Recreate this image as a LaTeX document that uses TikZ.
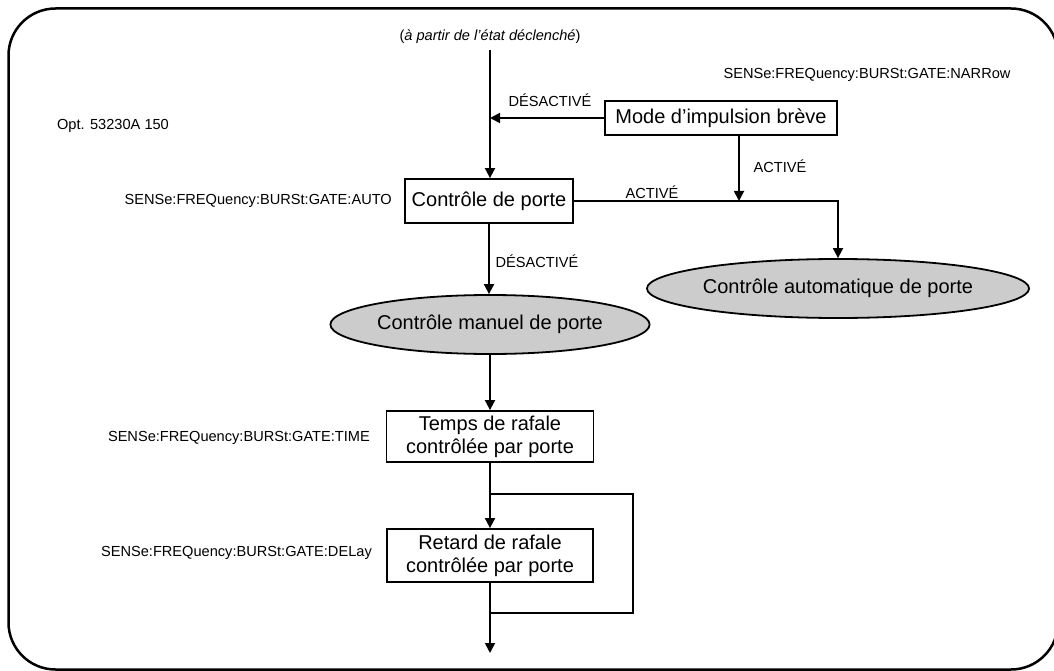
\documentclass[tikz,border=0pt]{standalone}
\usepackage{fontspec}
\setmainfont{Liberation Sans}
\usetikzlibrary{arrows.meta,shapes.geometric}
\begin{document}
\begin{tikzpicture}[x=1pt,y=-1pt,
 conn/.style={line width=1.8pt,-{Triangle[length=10pt,width=10pt]}},
 plainline/.style={line width=1.8pt},
 boxnode/.style={draw,line width=1.8pt,inner sep=0pt,align=center,font=\fontsize{20}{23}\selectfont},
 ell/.style={ellipse,draw,fill=black!20,line width=1.8pt,inner sep=0pt,font=\fontsize{20}{23}\selectfont},
 lbl/.style={inner sep=0pt,font=\fontsize{14.6}{17}\selectfont}]
\useasboundingbox (0,0) rectangle (1054,671);
\draw[line width=2.5pt,rounded corners=47pt] (8.5,8.5) rectangle (1058,669.5);

\node[boxnode,minimum width=232pt,minimum height=34pt] (mode) at (721,118) {Mode d’impulsion brève};
\node[boxnode,minimum width=168pt,minimum height=44pt] (gate) at (489,201) {Contrôle de porte};
\node[ell,minimum width=256pt,minimum height=59pt] (manual) at (490,324.5) {Contrôle manuel de porte};
\node[ell,minimum width=299pt,minimum height=59pt] (auto) at (838,288.5) {Contrôle automatique de porte};
\node[boxnode,minimum width=207pt,minimum height=51pt] (time) at (490,436.5) {Temps de rafale\\contrôlée par porte};
\node[boxnode,minimum width=206pt,minimum height=53pt] (delay) at (490,555.5) {Retard de rafale\\contrôlée par porte};

\node[lbl] (src) at (490,37) {(\textit{à partir de l’état déclenché})};
\node[lbl] (narrow) at (867,75) {SENSe:FREQuency:BURSt:GATE:NARRow};
\node[lbl] (opt) at (113,126) {Opt. 53230A 150};
\node[lbl,anchor=east] (lauto) at (392,201) {SENSe:FREQuency:BURSt:GATE:AUTO};
\node[lbl,anchor=east] (ltime) at (370,438) {SENSe:FREQuency:BURSt:GATE:TIME};
\node[lbl,anchor=east] (ldelay) at (372,553) {SENSe:FREQuency:BURSt:GATE:DELay};
\node[lbl] (off1) at (550,100) {DÉSACTIVÉ};
\node[lbl] (on1) at (780,166) {ACTIVÉ};
\node[lbl] (on2) at (652,192) {ACTIVÉ};
\node[lbl] (off2) at (537,261) {DÉSACTIVÉ};

\coordinate (top) at (490,50);
\coordinate (j0) at (490,118);
\coordinate (j1) at (739,201);
\coordinate (c0) at (838,201);
\coordinate (j2) at (490,494);
\coordinate (c1) at (633,494);
\coordinate (c2) at (633,613);
\coordinate (j3) at (490,613);
\coordinate (end) at (490,653);

\draw[conn] (top) -- (top |- gate.north);
\draw[conn] (mode.west) -- (j0);
\draw[conn] (j1 |- mode.south) -- (j1);
\draw[conn] (gate.east) -- (c0) -- (auto.north);
\draw[conn] (gate.south) -- (gate.south |- manual.north);
\draw[conn] (manual.south) -- (time.north);
\draw[conn] (time.south) -- (delay.north);
\draw[plainline] (j3) -- (c2) -- (c1) -- (j2);
\draw[conn] (delay.south) -- (end);
\end{tikzpicture}
\end{document}
